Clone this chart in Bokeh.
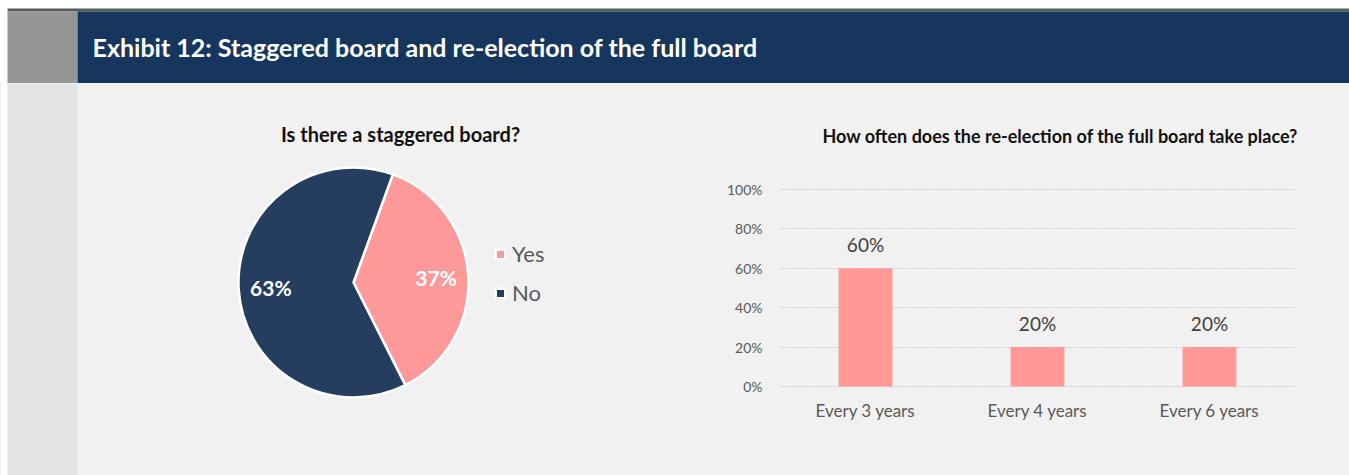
import math
from bokeh.plotting import figure
from bokeh.layouts import column, row
from bokeh.models import (Range1d, FactorRange, ColumnDataSource, Legend, LegendItem,
                          FixedTicker, NumeralTickFormatter, Title)
from bokeh.core.properties import value
from bokeh.embed import file_html
from bokeh.resources import INLINE

# ---------------- data ----------------
header_title = "Exhibit 12: Staggered board and re-election of the full board"

pie_title = "Is there a staggered board?"
pie_labels = ["Yes", "No"]
pie_values = [37, 63]
pie_colors = ["#FF9999", "#253E5F"]
pie_rotation_deg = 20

bar_title = "How often does the re-election of the full board take place?"
bar_categories = ["Every 3 years", "Every 4 years", "Every 6 years"]
bar_values = [0.60, 0.20, 0.20]
bar_color = "#FF9896"
y_ticks = [0, 0.2, 0.4, 0.6, 0.8, 1.0]

FONT = "Lato"
BG = "#F1F1F1"
NAVY = "#17365D"

# ---------------- header ----------------
HW, HH = 1349, 83
header = figure(width=HW, height=HH, x_range=Range1d(0, HW), y_range=Range1d(0, HH),
                output_backend="svg", toolbar_location=None, min_border=0)
header.axis.visible = False
header.grid.visible = False
header.outline_line_color = None
header.background_fill_color = "white"
header.border_fill_color = "white"
header.quad(left=[7], right=[HW], bottom=[72], top=[75], fill_color="#595959", line_color=None)
header.quad(left=[7], right=[77], bottom=[0], top=[72], fill_color="#969696", line_color=None)
header.quad(left=[77], right=[HW], bottom=[0], top=[72], fill_color=NAVY, line_color=None)
header.text(x=[92], y=[37], text=[header_title], text_color="white",
            text_font=value(FONT), text_font_style="bold", text_font_size="25px",
            text_baseline="middle", text_align="left")

# ---------------- pie panel ----------------
PW, PH = 680, 392
pie = figure(width=PW, height=PH, x_range=Range1d(0, PW), y_range=Range1d(0, PH),
             output_backend="svg", toolbar_location=None, min_border=0)
pie.axis.visible = False
pie.grid.visible = False
pie.outline_line_color = None
pie.background_fill_color = BG
pie.border_fill_color = BG
pie.quad(left=[0], right=[7], bottom=[0], top=[PH], fill_color="white", line_color=None)
pie.quad(left=[7], right=[77], bottom=[0], top=[PH], fill_color="#E4E4E4", line_color=None)

cx, cy, R = 353, 193, 115
total = sum(pie_values)
starts, ends, lx, ly, ltxt = [], [], [], [], []
cum = 0.0
for v in pie_values:
    frac = v / total
    s = math.pi / 2 - math.radians(pie_rotation_deg) - cum * 2 * math.pi
    e = s - frac * 2 * math.pi
    starts.append(s)
    ends.append(e)
    mid = (s + e) / 2
    lx.append(cx + 0.72 * R * math.cos(mid))
    ly.append(cy + 0.72 * R * math.sin(mid))
    ltxt.append(f"{v}%")
    cum += frac

src = ColumnDataSource(dict(start=starts, end=ends, color=pie_colors, label=pie_labels,
                            x=[cx] * len(pie_values), y=[cy] * len(pie_values)))
wr = pie.wedge(x="x", y="y", radius=R, radius_units="screen", start_angle="start", end_angle="end",
               direction="clock", fill_color="color", line_color="white", line_width=2.5, source=src)
pie.text(x=lx, y=ly, text=ltxt, text_color="white", text_font=value(FONT),
         text_font_style="bold", text_font_size="21px", text_align="center", text_baseline="middle")
pie.text(x=[400], y=[342], text=[pie_title], text_color="#111111", text_font=value(FONT),
         text_font_style="bold", text_font_size="20px", text_align="center", text_baseline="middle")

legend = Legend(items=[LegendItem(label=pie_labels[i], renderers=[wr], index=i) for i in range(len(pie_labels))],
                location=(494, 169), orientation="vertical", background_fill_alpha=0,
                border_line_color=None, padding=0, margin=0, spacing=12,
                glyph_width=12, glyph_height=12, label_standoff=6, label_height=22,
                label_text_font=FONT, label_text_font_size="22px", label_text_color="#595959")
pie.add_layout(legend)

# ---------------- bar panel ----------------
BW, BH = 669, 392
bar = figure(width=BW, height=BH, x_range=FactorRange(*bar_categories), y_range=Range1d(-0.005, 1.005),
             output_backend="svg", toolbar_location=None,
             min_border_left=99, min_border_right=54, min_border_top=105, min_border_bottom=88)
bar.outline_line_color = None
bar.background_fill_color = BG
bar.border_fill_color = BG
bar.xgrid.visible = False
bar.ygrid.grid_line_color = "#D0D0D0"
bar.ygrid.grid_line_dash = "2 1"
bar.yaxis.ticker = FixedTicker(ticks=y_ticks)
bar.yaxis.formatter = NumeralTickFormatter(format="0%")
for ax in (bar.xaxis, bar.yaxis):
    ax.axis_line_color = None
    ax.major_tick_line_color = None
    ax.minor_tick_line_color = None
    ax.major_label_text_font = FONT
    ax.major_label_text_color = "#595959"
bar.yaxis.major_label_text_font_size = "14px"
bar.yaxis.major_label_standoff = 11
bar.xaxis.major_label_text_font_size = "17px"
bar.xaxis.major_label_standoff = 6

bsrc = ColumnDataSource(dict(cat=bar_categories, val=bar_values,
                             lab=[f"{v:.0%}" for v in bar_values]))
bar.vbar(x="cat", top="val", width=0.313, bottom=0, fill_color=bar_color, line_color=None, source=bsrc)
bar.text(x="cat", y="val", text="lab", source=bsrc, text_font=value(FONT), text_font_size="19px",
         text_color="#404040", text_align="center", text_baseline="bottom", y_offset=-12)

bar.add_layout(Title(text=bar_title, align="left", offset=43, standoff=80, vertical_align="top",
                     text_font=FONT, text_font_size="18px", text_font_style="bold",
                     text_color="#111111"), "above")

body = row(column(pie), column(bar), spacing=0, styles={"background-color": BG})
layout = column(header, body, spacing=0)
open("out.html", "w").write(file_html(layout, INLINE))
